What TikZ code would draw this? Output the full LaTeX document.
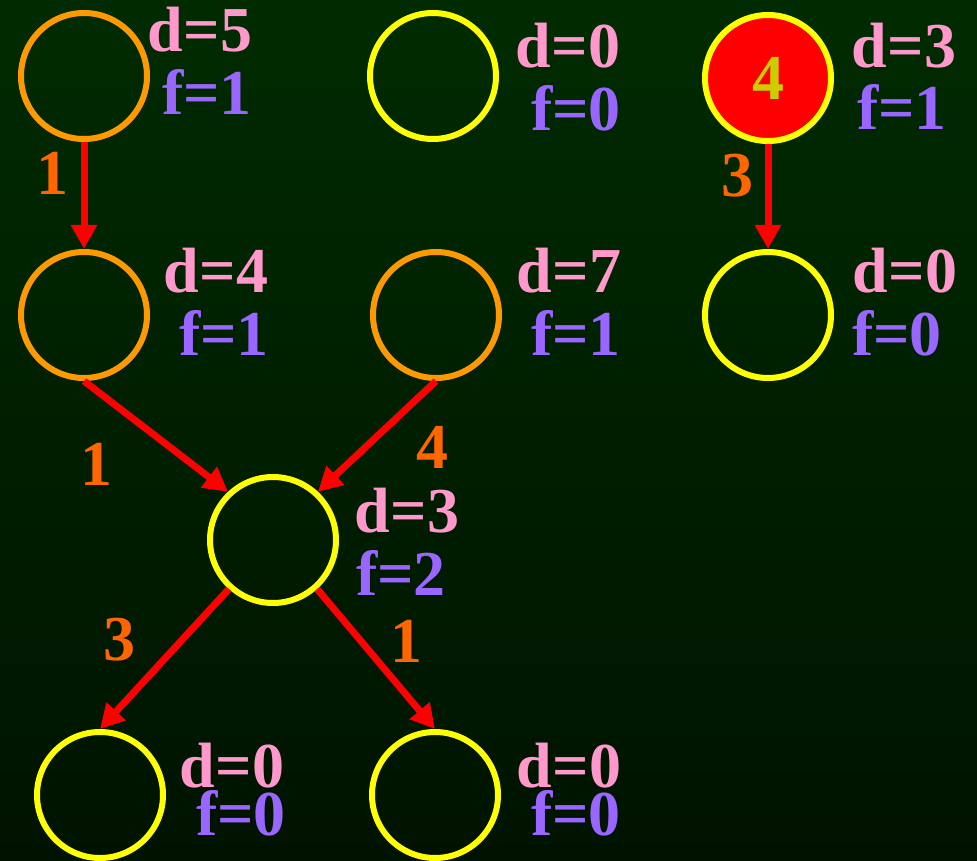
\documentclass[tikz,border=0pt]{standalone}
\usepackage{fontspec}
\setmainfont{Liberation Serif}
\usetikzlibrary{arrows.meta}
\definecolor{bgtop}{HTML}{002B00}
\definecolor{bgbot}{HTML}{001300}
\definecolor{dpink}{HTML}{FF99CC}
\definecolor{fpurple}{HTML}{9966FF}
\definecolor{wlab}{HTML}{FF6600}
\definecolor{nodeorange}{HTML}{FF9900}
\definecolor{nodeyellow}{HTML}{FFFF00}
\definecolor{numolive}{HTML}{CCCC00}
\tikzset{
  vert/.style={circle, draw, line width=6pt, minimum size=126pt, inner sep=0pt},
  vorange/.style={vert, draw=nodeorange},
  vyellow/.style={vert, draw=nodeyellow},
  txt/.style={anchor=base, inner sep=0pt, font=\fontsize{64}{64}\selectfont\bfseries},
  dlab/.style={txt, text=dpink},
  flab/.style={txt, text=fpurple},
  wt/.style={txt, text=wlab},
  edge/.style={draw=red, line width=7pt, -{Triangle[length=24pt,width=25pt]}},
}
\begin{document}
\begin{tikzpicture}[x=1pt,y=-1pt]
\shade[top color=bgtop, bottom color=bgbot] (0,0) rectangle (977,861);
\useasboundingbox (0,0) rectangle (977,861);

\node[vorange] (A) at (84,76) {};
\node[vyellow] (B) at (433,76) {};
\node[vyellow, fill=red, text=numolive, font=\fontsize{64}{64}\selectfont\bfseries] (C) at (768,78) {4};
\node[vorange] (D) at (84,315) {};
\node[vorange] (E) at (436,315) {};
\node[vyellow] (F) at (768,315) {};
\node[vyellow] (G) at (273,540) {};
\node[vyellow] (H) at (100,795) {};
\node[vyellow] (I) at (435,795) {};

\node[dlab] (Ad) at (200,52) {d=5};
\node[flab] (Af) at (207,115) {f=1};
\node[dlab] (Bd) at (568,68) {d=0};
\node[flab] (Bf) at (576,131) {f=0};
\node[dlab] (Cd) at (904,68) {d=3};
\node[flab] (Cf) at (902,130) {f=1};
\node[dlab] (Dd) at (216,292) {d=4};
\node[flab] (Df) at (224,355) {f=1};
\node[dlab] (Ed) at (569,292) {d=7};
\node[flab] (Ef) at (576,355) {f=1};
\node[dlab] (Fd) at (905,292) {d=0};
\node[flab] (Ff) at (897,355) {f=0};
\node[dlab] (Gd) at (407,532) {d=3};
\node[flab] (Gf) at (401,595) {f=2};
\node[dlab] (Hd) at (232,787) {d=0};
\node[flab] (Hf) at (241,835) {f=0};
\node[dlab] (Id) at (569,787) {d=0};
\node[flab] (If) at (576,835) {f=0};

\draw[edge] (A.south) -- (D.north);
\draw[edge] (C.south) -- (F.north);
\draw[edge] (D.south) -- (G.133);
\draw[edge] (E.south) -- (G.47);
\draw[edge] (G.228) -- (H.north);
\draw[edge] (G.312) -- (I.north);

\node[wt] (wAD) at (52,195) {1};
\node[wt] (wCF) at (737,197) {3};
\node[wt] (wDG) at (96,485) {1};
\node[wt] (wEG) at (432,468) {4};
\node[wt] (wGH) at (119,660) {3};
\node[wt] (wGI) at (406,662) {1};
\end{tikzpicture}
\end{document}
